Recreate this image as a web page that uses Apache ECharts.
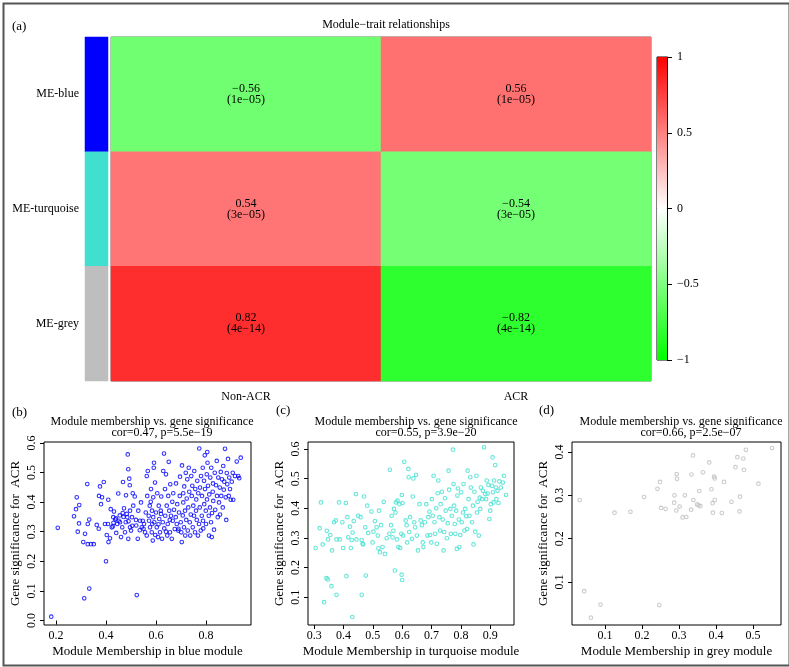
<!DOCTYPE html>
<html>
<head>
<meta charset="utf-8">
<script src="https://cdn.jsdelivr.net/npm/echarts@6/dist/echarts.min.js"></script>
<style>
html, body { margin: 0; padding: 0; background: #fff; }
#chart { width: 789px; height: 667px; }
</style>
</head>
<body>
<div id="chart"></div>
<script>
// heatmap data (module-trait correlations)
const traits = ['Non-ACR', 'ACR'];
const modules = ['ME-blue', 'ME-turquoise', 'ME-grey'];
const moduleColors = ['#0000FF', '#40E0D0', '#BEBEBE'];
const corNonACR = [-0.56, 0.54, 0.82];
const corACR = [0.56, -0.54, -0.82];
const pNonACR = ['1e-05', '3e-05', '4e-14'];
const pACR = ['1e-05', '3e-05', '4e-14'];
const colorbarTicks = [-1, -0.5, 0, 0.5, 1];

// scatter data [module membership, gene significance]
const bluePoints = [
  [0.181,0.013],[0.207,0.313],[0.313,0.075],[0.333,0.108],[0.4,0.2],[0.523,0.086],[0.325,0.461],
  [0.283,0.416],[0.28,0.376],[0.272,0.352],[0.293,0.39],[0.292,0.328],[0.287,0.3],[0.309,0.265],
  [0.327,0.258],[0.34,0.258],[0.351,0.258],[0.316,0.293],[0.327,0.326],[0.333,0.341],[0.363,0.323],
  [0.371,0.31],[0.372,0.421],[0.376,0.453],[0.38,0.393],[0.384,0.416],[0.391,0.468],[0.396,0.326],
  [0.403,0.289],[0.408,0.326],[0.409,0.408],[0.41,0.265],[0.416,0.278],[0.419,0.376],[0.423,0.315],
  [0.427,0.318],[0.429,0.349],[0.432,0.368],[0.437,0.341],[0.441,0.296],[0.445,0.326],[0.449,0.429],
  [0.451,0.337],[0.456,0.332],[0.46,0.282],[0.465,0.315],[0.467,0.363],[0.468,0.468],[0.472,0.379],
  [0.476,0.298],[0.479,0.332],[0.483,0.36],[0.485,0.349],[0.48,0.423],[0.487,0.561],[0.489,0.276],
  [0.489,0.511],[0.493,0.479],[0.495,0.457],[0.496,0.371],[0.496,0.315],[0.5,0.304],[0.504,0.349],
  [0.507,0.43],[0.509,0.388],[0.515,0.419],[0.521,0.321],[0.527,0.276],[0.529,0.371],[0.536,0.337],
  [0.54,0.399],[0.543,0.315],[0.547,0.337],[0.552,0.326],[0.556,0.298],[0.559,0.365],[0.563,0.488],
  [0.563,0.287],[0.565,0.421],[0.567,0.505],[0.571,0.354],[0.572,0.337],[0.575,0.388],[0.576,0.315],
  [0.579,0.401],[0.58,0.444],[0.583,0.298],[0.584,0.371],[0.585,0.326],[0.587,0.27],[0.589,0.349],
  [0.589,0.416],[0.591,0.516],[0.592,0.533],[0.593,0.332],[0.596,0.466],[0.597,0.289],[0.6,0.365],
  [0.603,0.315],[0.605,0.43],[0.608,0.282],[0.611,0.388],[0.613,0.343],[0.616,0.298],[0.619,0.371],
  [0.621,0.419],[0.624,0.276],[0.627,0.332],[0.629,0.505],[0.632,0.564],[0.633,0.311],[0.636,0.444],
  [0.637,0.354],[0.64,0.494],[0.643,0.388],[0.645,0.287],[0.647,0.326],[0.649,0.421],[0.651,0.536],
  [0.653,0.371],[0.656,0.298],[0.657,0.46],[0.66,0.354],[0.663,0.276],[0.665,0.401],[0.667,0.337],
  [0.669,0.43],[0.672,0.374],[0.675,0.309],[0.679,0.349],[0.68,0.463],[0.683,0.326],[0.685,0.393],
  [0.689,0.304],[0.692,0.365],[0.695,0.421],[0.696,0.486],[0.699,0.332],[0.701,0.298],[0.703,0.265],
  [0.704,0.524],[0.707,0.355],[0.709,0.43],[0.709,0.399],[0.712,0.315],[0.713,0.453],[0.716,0.371],
  [0.717,0.287],[0.719,0.499],[0.721,0.34],[0.723,0.412],[0.725,0.477],[0.727,0.304],[0.729,0.382],
  [0.731,0.516],[0.733,0.435],[0.735,0.332],[0.737,0.287],[0.739,0.358],[0.741,0.488],[0.743,0.421],
  [0.745,0.455],[0.747,0.315],[0.749,0.388],[0.752,0.354],[0.753,0.505],[0.756,0.298],[0.757,0.444],
  [0.76,0.371],[0.761,0.409],[0.763,0.34],[0.765,0.472],[0.768,0.287],[0.769,0.43],[0.772,0.326],
  [0.773,0.581],[0.775,0.382],[0.776,0.449],[0.779,0.304],[0.78,0.488],[0.783,0.354],[0.784,0.421],
  [0.787,0.516],[0.788,0.337],[0.789,0.311],[0.792,0.472],[0.793,0.393],[0.795,0.558],[0.796,0.444],
  [0.799,0.371],[0.8,0.326],[0.803,0.494],[0.804,0.409],[0.805,0.569],[0.806,0.533],[0.808,0.455],
  [0.811,0.354],[0.812,0.287],[0.813,0.426],[0.816,0.382],[0.817,0.483],[0.82,0.332],[0.821,0.516],
  [0.823,0.282],[0.824,0.363],[0.827,0.435],[0.828,0.463],[0.829,0.404],[0.832,0.307],[0.835,0.499],
  [0.837,0.374],[0.84,0.457],[0.843,0.539],[0.844,0.421],[0.847,0.349],[0.849,0.483],[0.852,0.399],
  [0.855,0.449],[0.856,0.358],[0.859,0.502],[0.861,0.421],[0.864,0.477],[0.867,0.382],[0.869,0.522],
  [0.871,0.442],[0.873,0.469],[0.876,0.58],[0.879,0.416],[0.881,0.34],[0.883,0.498],[0.885,0.46],
  [0.888,0.546],[0.891,0.421],[0.893,0.483],[0.896,0.444],[0.899,0.408],[0.903,0.469],[0.907,0.499],
  [0.909,0.408],[0.916,0.488],[0.923,0.537],[0.929,0.488],[0.933,0.481],[0.939,0.55],
  [0.43,0.33],[0.44,0.345],[0.455,0.355],[0.47,0.35],[0.49,0.335],[0.505,0.32],[0.52,0.34],
  [0.535,0.305],[0.55,0.31],[0.61,0.325],[0.62,0.36],[0.64,0.3],[0.655,0.34],[0.69,0.31]
];
const turquoisePoints = [
  [0.334,0.083],[0.342,0.164],[0.346,0.16],[0.359,0.137],[0.376,0.108],[0.41,0.171],[0.43,0.033],
  [0.462,0.108],[0.476,0.173],[0.575,0.19],[0.598,0.176],[0.6,0.158],
  [0.305,0.266],[0.319,0.333],[0.323,0.42],[0.329,0.278],[0.343,0.324],[0.347,0.295],[0.355,0.31],
  [0.361,0.258],[0.368,0.353],[0.374,0.359],[0.376,0.295],[0.385,0.42],[0.387,0.295],[0.396,0.353],
  [0.399,0.266],[0.408,0.418],[0.413,0.37],[0.416,0.302],[0.422,0.338],[0.425,0.266],[0.428,0.293],
  [0.431,0.318],[0.435,0.357],[0.442,0.448],[0.444,0.295],[0.45,0.375],[0.458,0.37],[0.462,0.293],
  [0.465,0.281],[0.467,0.278],[0.47,0.44],[0.474,0.336],[0.481,0.409],[0.484,0.317],[0.495,0.389],
  [0.499,0.285],[0.502,0.321],[0.507,0.357],[0.513,0.336],[0.517,0.308],[0.519,0.265],[0.521,0.392],
  [0.524,0.252],[0.528,0.343],[0.533,0.269],[0.537,0.422],[0.541,0.246],[0.547,0.299],[0.556,0.314],
  [0.558,0.53],[0.562,0.343],[0.564,0.375],[0.567,0.302],[0.57,0.324],[0.572,0.398],[0.577,0.386],
  [0.579,0.42],[0.582,0.295],[0.584,0.426],[0.587,0.269],[0.591,0.414],[0.593,0.266],[0.597,0.314],
  [0.599,0.445],[0.601,0.418],[0.603,0.308],[0.607,0.557],[0.612,0.359],[0.615,0.343],[0.617,0.285],
  [0.621,0.533],[0.622,0.505],[0.624,0.32],[0.627,0.37],[0.633,0.297],[0.636,0.44],[0.638,0.501],
  [0.641,0.353],[0.644,0.336],[0.647,0.513],[0.65,0.308],[0.654,0.258],[0.659,0.414],[0.663,0.359],
  [0.667,0.343],[0.67,0.285],[0.672,0.269],[0.677,0.353],[0.682,0.414],[0.686,0.308],[0.689,0.37],
  [0.693,0.389],[0.695,0.31],[0.699,0.285],[0.701,0.431],[0.704,0.375],[0.707,0.51],[0.71,0.353],
  [0.712,0.314],[0.716,0.4],[0.718,0.28],[0.721,0.451],[0.723,0.494],[0.727,0.37],[0.729,0.325],
  [0.731,0.414],[0.735,0.456],[0.738,0.362],[0.741,0.258],[0.743,0.32],[0.746,0.434],[0.748,0.392],
  [0.752,0.299],[0.755,0.35],[0.758,0.527],[0.76,0.463],[0.764,0.398],[0.766,0.314],[0.769,0.375],
  [0.773,0.598],[0.775,0.482],[0.777,0.409],[0.779,0.347],[0.781,0.314],[0.784,0.392],[0.786,0.263],
  [0.788,0.443],[0.79,0.467],[0.793,0.362],[0.795,0.269],[0.798,0.31],[0.801,0.454],[0.803,0.353],
  [0.807,0.386],[0.809,0.482],[0.812,0.325],[0.815,0.398],[0.818,0.373],[0.821,0.33],[0.823,0.527],
  [0.826,0.431],[0.829,0.375],[0.832,0.505],[0.834,0.47],[0.838,0.353],[0.841,0.409],[0.843,0.278],
  [0.846,0.456],[0.849,0.321],[0.853,0.51],[0.855,0.386],[0.857,0.422],[0.861,0.308],[0.864,0.436],
  [0.866,0.398],[0.868,0.47],[0.872,0.431],[0.875,0.459],[0.879,0.606],[0.883,0.448],[0.886,0.431],
  [0.888,0.494],[0.891,0.45],[0.894,0.479],[0.897,0.364],[0.9,0.392],[0.902,0.414],[0.906,0.476],
  [0.908,0.572],[0.909,0.454],[0.911,0.42],[0.913,0.494],[0.917,0.546],[0.919,0.47],[0.921,0.431],
  [0.925,0.459],[0.928,0.418],[0.931,0.491],[0.936,0.47],[0.943,0.487],[0.947,0.51],[0.954,0.445]
];
const greyPoints = [
  [0.032,0.289],[0.044,0.079],[0.062,0.018],[0.088,0.048],[0.126,0.26],[0.169,0.262],[0.206,0.296],
  [0.242,0.315],[0.249,0.331],[0.247,0.047],[0.252,0.271],[0.264,0.269],[0.287,0.283],[0.288,0.3],
  [0.294,0.349],[0.295,0.338],[0.293,0.265],[0.302,0.274],[0.31,0.249],[0.316,0.3],[0.32,0.25],
  [0.333,0.267],[0.334,0.348],[0.338,0.392],[0.339,0.289],[0.349,0.279],[0.353,0.277],[0.355,0.31],
  [0.358,0.275],[0.365,0.353],[0.382,0.376],[0.388,0.314],[0.391,0.282],[0.392,0.26],[0.395,0.343],
  [0.397,0.339],[0.397,0.289],[0.422,0.331],[0.416,0.259],[0.442,0.285],[0.453,0.365],[0.458,0.388],
  [0.464,0.263],[0.465,0.297],[0.474,0.385],[0.476,0.359],[0.481,0.405],[0.515,0.327],[0.552,0.409]
];

// axis ranges and tick labels of the three scatter panels
const blueXRange = [0.152, 0.98];
const blueYRange = [-0.015, 0.603];
const blueXTicks = [0.2, 0.4, 0.6, 0.8];
const blueYTicks = [0.0, 0.1, 0.2, 0.3, 0.4, 0.5, 0.6];
const turqXRange = [0.279, 0.981];
const turqYRange = [0.006, 0.624];
const turqXTicks = [0.3, 0.4, 0.5, 0.6, 0.7, 0.8, 0.9];
const turqYTicks = [0.1, 0.2, 0.3, 0.4, 0.5, 0.6];
const greyXRange = [0.011, 0.576];
const greyYRange = [0.001, 0.423];
const greyXTicks = [0.1, 0.2, 0.3, 0.4, 0.5];
const greyYTicks = [0.1, 0.2, 0.3, 0.4];

const FONT = 'Liberation Serif';
const minus = s => String(s).replace(/-/g, '\u2212');

const heatData = [];
modules.forEach((m, i) => {
  heatData.push({ value: [0, i, corNonACR[i]], p: pNonACR[i] });
  heatData.push({ value: [1, i, corACR[i]], p: pACR[i] });
});
const sideData = modules.map((m, i) => ({ value: [0, i, i], itemStyle: { color: moduleColors[i] } }));

function scatterAxis(grid, range, ticks, name, isY, gap) {
  return {
    type: 'value', gridIndex: grid, min: range[0], max: range[1],
    splitLine: { show: false },
    axisLine: { show: false },
    axisTick: { show: true, inside: false, length: 4, customValues: ticks, lineStyle: { color: '#000' } },
    axisLabel: {
      customValues: ticks, formatter: v => v.toFixed(1), rotate: isY ? 90 : 0,
      margin: isY ? 6 : 5, color: '#000', fontFamily: FONT, fontSize: 12
    },
    name: name, nameLocation: 'middle', nameGap: gap,
    nameTextStyle: { color: '#000', fontFamily: FONT, fontSize: 13 }
  };
}

function scatterTitle(cx, cor, p) {
  return [
    { text: 'Module membership vs. gene significance', left: cx, top: 411, textAlign: 'center',
      textStyle: { fontFamily: FONT, fontSize: 12, fontWeight: 'normal', color: '#000' } },
    { text: 'cor=' + cor + ', p=' + minus(p), left: cx + 10, top: 422, textAlign: 'center',
      textStyle: { fontFamily: FONT, fontSize: 12, fontWeight: 'normal', color: '#000' } }
  ];
}

function scatterSeries(idx, data, color) {
  return {
    type: 'scatter', xAxisIndex: idx, yAxisIndex: idx, data: data,
    symbol: 'circle', symbolSize: 3.6, silent: true,
    itemStyle: { color: 'rgba(255,255,255,0)', borderColor: color, borderWidth: 1.1 }
  };
}

const labelStyle = { fontFamily: FONT, fontSize: 13, fontWeight: 'normal', color: '#000' };

const option = {
  backgroundColor: '#fff',
  animation: false,
  title: [
    { text: '(a)', left: 7, top: 15, textStyle: labelStyle },
    { text: 'Module\u2212trait relationships', left: 381, top: 14, textAlign: 'center',
      textStyle: { fontFamily: FONT, fontSize: 12, fontWeight: 'normal', color: '#000' } },
    { text: '(b)', left: 7, top: 401, textStyle: labelStyle },
    { text: '(c)', left: 271, top: 399, textStyle: labelStyle },
    { text: '(d)', left: 534, top: 399, textStyle: labelStyle }
  ].concat(scatterTitle(147, '0.47', '5.5e-19'), scatterTitle(411, '0.55', '3.9e-20'), scatterTitle(676, '0.66', '2.5e-07')),
  graphic: [{
    type: 'rect', left: 1, top: 1, silent: true,
    shape: { width: 786, height: 662 },
    style: { fill: 'none', stroke: '#555', lineWidth: 2 }
  }],
  visualMap: {
    type: 'continuous', min: -1, max: 1, seriesIndex: 0, show: false,
    inRange: { color: ['#00FF00', '#FFFFFF', '#FF0000'] }
  },
  grid: [
    { left: 111, top: 37, width: 540, height: 344, show: true, borderColor: '#777', borderWidth: 1 },
    { left: 85, top: 37, width: 23, height: 344 },
    { left: 657, top: 57, width: 10, height: 303, show: true, borderColor: '#000', borderWidth: 1 },
    { left: 44, top: 442, width: 207, height: 183, show: true, borderColor: '#000', borderWidth: 1 },
    { left: 308, top: 442, width: 206, height: 183, show: true, borderColor: '#000', borderWidth: 1 },
    { left: 572, top: 442, width: 209, height: 183, show: true, borderColor: '#000', borderWidth: 1 }
  ],
  xAxis: [
    { type: 'category', gridIndex: 0, data: traits, axisLine: { show: false }, axisTick: { show: false },
      axisLabel: { margin: 10, color: '#000', fontFamily: FONT, fontSize: 12 } },
    { type: 'category', gridIndex: 1, data: ['m'], show: false },
    { type: 'category', gridIndex: 2, data: ['cb'], show: false },
    scatterAxis(3, blueXRange, blueXTicks, 'Module Membership in blue module', false, 20),
    scatterAxis(4, turqXRange, turqXTicks, 'Module Membership in turquoise module', false, 20),
    scatterAxis(5, greyXRange, greyXTicks, 'Module Membership in grey module', false, 20)
  ],
  yAxis: [
    { type: 'category', gridIndex: 0, data: modules, inverse: true, show: false },
    { type: 'category', gridIndex: 1, data: modules, inverse: true,
      axisLine: { show: false }, axisTick: { show: false },
      axisLabel: { margin: 6, color: '#000', fontFamily: FONT, fontSize: 12 } },
    { type: 'value', gridIndex: 2, min: -1, max: 1, position: 'right',
      splitLine: { show: false },
      axisLine: { show: true, lineStyle: { color: '#000' } },
      axisTick: { show: true, length: 5, customValues: colorbarTicks, lineStyle: { color: '#000' } },
      axisLabel: { customValues: colorbarTicks, formatter: v => minus(v), margin: 10,
        color: '#000', fontFamily: FONT, fontSize: 12 } },
    scatterAxis(3, blueYRange, blueYTicks, 'Gene significance for  ACR', true, 22),
    scatterAxis(4, turqYRange, turqYTicks, 'Gene significance for  ACR', true, 22),
    scatterAxis(5, greyYRange, greyYTicks, 'Gene significance for  ACR', true, 22)
  ],
  series: [
    {
      type: 'heatmap', xAxisIndex: 0, yAxisIndex: 0, data: heatData, silent: true,
      label: {
        show: true, color: '#000', fontFamily: FONT, fontSize: 12, lineHeight: 11,
        formatter: p => minus(p.value[2].toFixed(2)) + '\n(' + minus(p.data.p) + ')'
      }
    },
    { type: 'heatmap', xAxisIndex: 1, yAxisIndex: 1, data: sideData, silent: true },
    { type: 'bar', xAxisIndex: 2, yAxisIndex: 2, data: [1], barWidth: '100%', silent: true,
      itemStyle: { color: new echarts.graphic.LinearGradient(0, 0, 0, 1, [
        { offset: 0, color: '#FF0000' }, { offset: 1, color: '#FFFFFF' }]) } },
    { type: 'bar', xAxisIndex: 2, yAxisIndex: 2, data: [-1], barWidth: '100%', barGap: '-100%', silent: true,
      itemStyle: { color: new echarts.graphic.LinearGradient(0, 0, 0, 1, [
        { offset: 0, color: '#FFFFFF' }, { offset: 1, color: '#00FF00' }]) } },
    scatterSeries(3, bluePoints, '#0000FF'),
    scatterSeries(4, turquoisePoints, '#40E0D0'),
    scatterSeries(5, greyPoints, '#BEBEBE')
  ]
};

const chart = echarts.init(document.getElementById('chart'));
chart.setOption(option);
</script>
</body>
</html>
